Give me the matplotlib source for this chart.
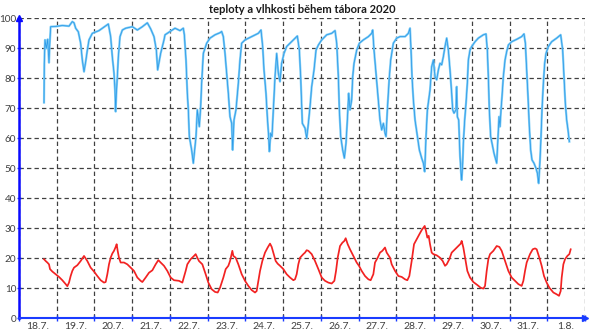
import matplotlib
matplotlib.use("Agg")
import matplotlib.pyplot as plt
from matplotlib.ticker import FixedLocator

# time in days since 18.7. 00:00
hum_t = [0.663, 0.671, 0.689, 0.724, 0.76, 0.795, 0.813, 0.839, 0.972, 1.148, 1.325, 1.413, 1.458,
         1.502, 1.572, 1.634, 1.678, 1.723, 1.767, 1.811, 1.855, 1.943, 2.12, 2.297, 2.367, 2.429,
         2.473, 2.518, 2.544, 2.562, 2.58, 2.606, 2.633, 2.677, 2.739, 2.827, 3.004, 3.136, 3.269,
         3.401, 3.489, 3.578, 3.64, 3.675, 3.754, 3.843,
         3.87, 4.002, 4.135, 4.267, 4.355, 4.382, 4.426, 4.461, 4.488, 4.514, 4.576, 4.62, 4.647,
         4.691, 4.726, 4.779, 4.815, 4.841, 4.885, 4.974, 5.062, 5.195, 5.327, 5.371, 5.415, 5.46,
         5.504, 5.548, 5.592, 5.636, 5.663, 5.698, 5.751, 5.813, 5.857, 5.901, 5.99, 6.166, 6.343,
         6.414, 6.458, 6.493, 6.546, 6.581, 6.617, 6.635, 6.67, 6.705, 6.741, 6.785, 6.829, 6.873,
         6.917, 6.961, 7.023, 7.094, 7.182, 7.271, 7.377, 7.43, 7.465, 7.509, 7.58,
         7.625, 7.669, 7.713, 7.757, 7.819, 7.872, 7.934, 8.022, 8.155, 8.287, 8.376, 8.42, 8.464,
         8.49, 8.526, 8.579, 8.623, 8.667, 8.702, 8.738, 8.773, 8.817, 8.844, 8.879, 8.95, 9.02,
         9.126, 9.259, 9.347, 9.374, 9.409, 9.462, 9.515, 9.568, 9.612, 9.657, 9.701, 9.727, 9.762,
         9.815, 9.851, 9.921, 10.01, 10.098, 10.231, 10.319, 10.363, 10.39, 10.416, 10.452, 10.496,
         10.558, 10.611, 10.672, 10.717, 10.752, 10.787, 10.823, 10.858, 10.893, 10.937, 10.982,
         11.026, 11.07, 11.114, 11.158,
         11.202, 11.246, 11.29, 11.335, 11.379, 11.423, 11.467, 11.494, 11.529, 11.582, 11.6,
         11.617, 11.653, 11.67, 11.688, 11.715, 11.732, 11.759, 11.776, 11.812, 11.847, 11.882,
         11.909, 11.953, 11.997, 12.086, 12.174, 12.306, 12.377, 12.412, 12.439, 12.465, 12.5,
         12.554, 12.589, 12.624, 12.66, 12.686, 12.722, 12.748, 12.775, 12.801, 12.836, 12.881,
         12.925, 12.969, 13.057, 13.19, 13.322, 13.384, 13.42, 13.455, 13.49, 13.525, 13.561,
         13.596, 13.649, 13.702, 13.738, 13.773, 13.808, 13.835, 13.861, 13.897, 13.932, 13.967,
         14.029, 14.117, 14.25, 14.356, 14.409, 14.444, 14.479, 14.515, 14.55, 14.585]
hum_v = [71.9, 85, 92.8, 90, 93, 85.2, 91, 97.2, 97.3, 97.6, 97.4, 98.9, 98.5,
         96.7, 95.5, 91.7, 86.1, 82.2, 85.5, 89.4, 92.8, 95, 95.9, 97.5, 98.1, 93.9,
         87.2, 81.7, 76.1, 68.9, 75, 80.5, 87.2, 93.9, 96.1, 96.7, 97.2, 96.1, 97.2,
         98.5, 96.5, 93.9, 89.4, 82.8, 88.3, 92.8,
         94.5, 95.6, 96.7, 95.9, 96.7, 94.5, 86.1, 75, 69.5, 60.6, 56.1, 51.7, 55,
         60.6, 69.5, 63.9, 70.6, 78.4, 88.3, 91.7, 93.4, 94.5, 95.2, 95.6, 93.9, 88.3,
         81.7, 75, 67.2, 65, 56.1, 66.1, 69.5, 78.4, 86.1, 91.7, 92.8, 93.9, 95,
         96.1, 90.6, 82.8, 75, 67.2, 60.6, 55.6, 61.7, 60.6, 69.5, 80.5, 88.3, 81.7,
         78.9, 85, 88.3, 90.6, 91.7, 92.8, 94.1, 89.4, 80.5, 65, 63.4,
         60, 65, 70.6, 77.2, 82.8, 89.4, 91.1, 92.8, 94.5, 95, 95.9, 91.7, 80.5,
         69.5, 60.6, 56.1, 53.4, 58.4, 66.1, 75, 69.5, 72.8, 80.5, 85, 89.4, 91.7,
         92.8, 93.9, 95, 96.1, 89.4, 81.7, 73.9, 66.1, 62.8, 65, 61.7, 60.6, 69.5,
         80.5, 86.1, 91.7, 93.4, 93.9, 93.9, 95, 96.7, 89.4, 80.5, 72.8, 66.1,
         60.6, 56.1, 53.4, 51.7, 48.9, 60.6, 69.5, 72.8, 76.1, 83.9, 86.1,
         80.5, 79.5, 82.8, 85,
         84.5, 87.2, 90.6, 93.4, 89.4, 82.8, 75, 69.5, 68.4, 69.5, 77.2,
         67.2, 66.1, 60.6, 54, 48.4, 46.1, 51.7, 58.4, 66.1, 71.7, 78.4,
         86.1, 89.4, 90.6, 92.2, 93.4, 94.5, 94.8, 89.4, 80.5, 69.5, 60.6,
         57.2, 55, 53.4, 51.7, 58.4, 67.2, 63.9, 69.5, 73.9, 80.5, 86.1,
         88.9, 91.1, 92.2, 93, 93.9, 94.8, 91.7, 82.8, 73.9, 63.9, 56.1,
         52.8, 51.7, 50, 48.4, 45, 52.8, 60.6, 69.5, 78.4, 85, 88.3,
         90.6, 92.2, 93.4, 94.5, 89.4, 80.5, 71.7, 66.1, 62.8, 58.9]

tmp_t = [0.663, 0.707, 0.751, 0.795, 0.822, 0.883, 0.972, 1.06, 1.148, 1.237, 1.281, 1.325, 1.369,
         1.413, 1.458, 1.546, 1.634, 1.723, 1.811, 1.899, 1.988, 2.076, 2.164, 2.253, 2.297, 2.341,
         2.385, 2.429, 2.473, 2.518, 2.562, 2.588, 2.615, 2.65, 2.694, 2.783, 2.871, 2.959, 3.048,
         3.136, 3.224, 3.269, 3.357, 3.445, 3.534, 3.622, 3.693, 3.754, 3.843, 3.931, 4.019, 4.108,
         4.24, 4.329, 4.417, 4.461, 4.549, 4.638, 4.682, 4.726, 4.77, 4.859, 4.947,
         5.018, 5.107, 5.195, 5.266, 5.328, 5.416, 5.478, 5.548, 5.593, 5.637, 5.654, 5.681, 5.743,
         5.813, 5.902, 5.99, 6.078, 6.167, 6.255, 6.299, 6.343, 6.388, 6.449, 6.52, 6.591, 6.653,
         6.697, 6.741, 6.803, 6.856, 6.918, 7.006, 7.094, 7.183, 7.271, 7.315, 7.359, 7.403, 7.448,
         7.536, 7.58, 7.624, 7.669, 7.757, 7.845, 7.934, 8.022, 8.11, 8.199, 8.287, 8.358, 8.402,
         8.446, 8.508, 8.57, 8.623, 8.658, 8.711, 8.773, 8.861, 8.949, 9.011, 9.082, 9.17, 9.259,
         9.32, 9.391, 9.435, 9.506, 9.568, 9.63, 9.7, 9.745, 9.833,
         9.877, 9.966, 10.054, 10.142, 10.231, 10.292, 10.345, 10.407, 10.469, 10.54, 10.61,
         10.672, 10.716, 10.752, 10.787, 10.822, 10.858, 10.893, 10.937, 10.981, 11.07, 11.158,
         11.229, 11.291, 11.335, 11.405, 11.467, 11.556, 11.644, 11.706, 11.732, 11.776, 11.821,
         11.882, 11.953, 12.041, 12.147, 12.236, 12.306, 12.351, 12.395, 12.439, 12.483, 12.572,
         12.66, 12.731, 12.792, 12.881, 12.969, 13.057, 13.146, 13.234, 13.322, 13.367, 13.411,
         13.455, 13.543, 13.614, 13.676, 13.72, 13.791, 13.852, 13.914, 13.985, 14.056, 14.162,
         14.25, 14.312, 14.356, 14.383, 14.427, 14.471, 14.533, 14.586, 14.621]
tmp_v = [19.7, 19.1, 18.6, 18, 16.4, 15.6, 14.7, 13.8, 12.7, 11.4, 10.7, 11.9, 14.1,
         15.8, 16.9, 17.7, 19.1, 20.8, 19.1, 16.9, 15.6, 14.1, 12.7, 11.9, 12.1, 14.7,
         18, 20.2, 21.6, 22.5, 23.8, 24.7, 22.5, 20.2, 18.6, 18.6, 18, 16.9, 15.8,
         13.6, 12.5, 12.1, 13.6, 15.2, 16, 18, 19.4, 18.6, 17.5, 15.8, 13.6, 12.7,
         12.5, 11.9, 15.8, 18, 19.7, 20.8, 21.4, 20.2, 19.1, 18, 14.7,
         11.9, 9.7, 8.8, 8.6, 10.2, 13.6, 16.4, 17.5, 19.1, 21.6, 22.5, 20.8, 20.2,
         18, 14.7, 12.5, 10.8, 9.4, 8.6, 9.1, 12.5, 15.8, 19.1, 21.9, 23.6, 24.9,
         23.8, 21.9, 19.1, 18.2, 17.5, 16.4, 14.7, 13.6, 12.7, 13, 14.7, 18, 20.2,
         21.4, 21.9, 22.7, 22.5, 21.4, 19.1, 16.4, 13.6, 12.5, 11.9, 11.6, 12.5, 15.8,
         20.2, 24.1, 25.2, 25.8, 26.7, 24.7, 23, 20.8, 18.6, 17.5, 15.8, 14.1, 13,
         12.7, 14.7, 18.6, 20.2, 21.9, 22.5, 23.6, 21.9, 20.2,
         18, 15.8, 14.1, 13.8, 13, 12.7, 14.1, 19.1, 24.7, 26.4, 28,
         29.4, 30.2, 30.8, 29.1, 26.9, 27.5, 24.7, 21.9, 21.4, 21, 20.2,
         19.1, 17.5, 18, 19.7, 21.9, 23, 24.1, 24.9, 25.8, 23.6, 20.2,
         15.8, 13.6, 12.1, 11.1, 10.2, 9.9, 10.8, 15.8, 19.7, 21.4, 22.5,
         24.1, 23.8, 22.5, 19.1, 15.8, 13.6, 12.5, 11.4, 10.8, 12.5, 15.8,
         18.6, 21.4, 23, 23.3, 23, 20.2, 17.5, 14.1, 11.9, 10.2, 8.6,
         8, 7.5, 9.1, 13.6, 18, 19.7, 20.8, 21.4, 23]

day_labels = ["18.7.", "19.7.", "20.7.", "21.7.", "22.7.", "23.7.", "24.7.", "25.7.",
              "26.7.", "27.7.", "28.7.", "29.7.", "30.7.", "31.7.", "1.8."]
y_ticks = [0, 10, 20, 30, 40, 50, 60, 70, 80, 90, 100]
title = "teploty a vlhkosti během tábora 2020"

plt.rcParams['font.family'] = ['Lato', 'DejaVu Sans']

fig = plt.figure(figsize=(5.9, 3.33), dpi=100)
ax = fig.add_axes([0.0322, 0.0441, 0.9593, 0.9009])

n_days = len(day_labels)
ax.set_xlim(0, n_days)
ax.set_ylim(0, 100)

ax.plot(hum_t, hum_v, color='#80cdf6', lw=1.6, zorder=3)
ax.plot(hum_t, hum_v, color='#2c9ae8', lw=0.55, zorder=4)
ax.plot(tmp_t, tmp_v, color='#f22222', lw=1.25, zorder=4)

ax.xaxis.set_major_locator(FixedLocator(list(range(n_days + 1))))
ax.xaxis.set_minor_locator(FixedLocator([d + 0.5 for d in range(n_days)]))
ax.set_xticklabels([], minor=False)
ax.set_xticklabels(day_labels, minor=True)
ax.tick_params(axis='x', which='major', direction='inout', length=5, width=1, color='#1a3cff')
ax.tick_params(axis='x', which='minor', length=0, pad=3, labelsize=7.5, labelcolor='#404040')

ax.set_yticks(y_ticks)
ax.tick_params(axis='y', direction='inout', length=3, width=1, color='#1a3cff',
               labelsize=7.2, labelcolor='#404040', pad=0.5)

ax.grid(True, which='major', color='#404040', linestyle=(0, (3.5, 2.5)), linewidth=0.9)

for s in ['top', 'right']:
    ax.spines[s].set_visible(False)
ax.spines['left'].set_color('#0a0aff')
ax.spines['left'].set_linewidth(1.8)
ax.spines['bottom'].set_color('#1a3cff')
ax.spines['bottom'].set_linewidth(1.5)
ax.plot([1.0], [0], marker='>', color='#1a3cff', markersize=5, transform=ax.transAxes,
        clip_on=False, zorder=6)
ax.plot([0], [1.0], marker='^', color='#0a0aff', markersize=5, transform=ax.transAxes,
        clip_on=False, zorder=6)

ax.set_title(title, fontsize=8, fontweight='bold', color='#1a1a1a', pad=4)

fig.savefig("out.png", dpi=100)
